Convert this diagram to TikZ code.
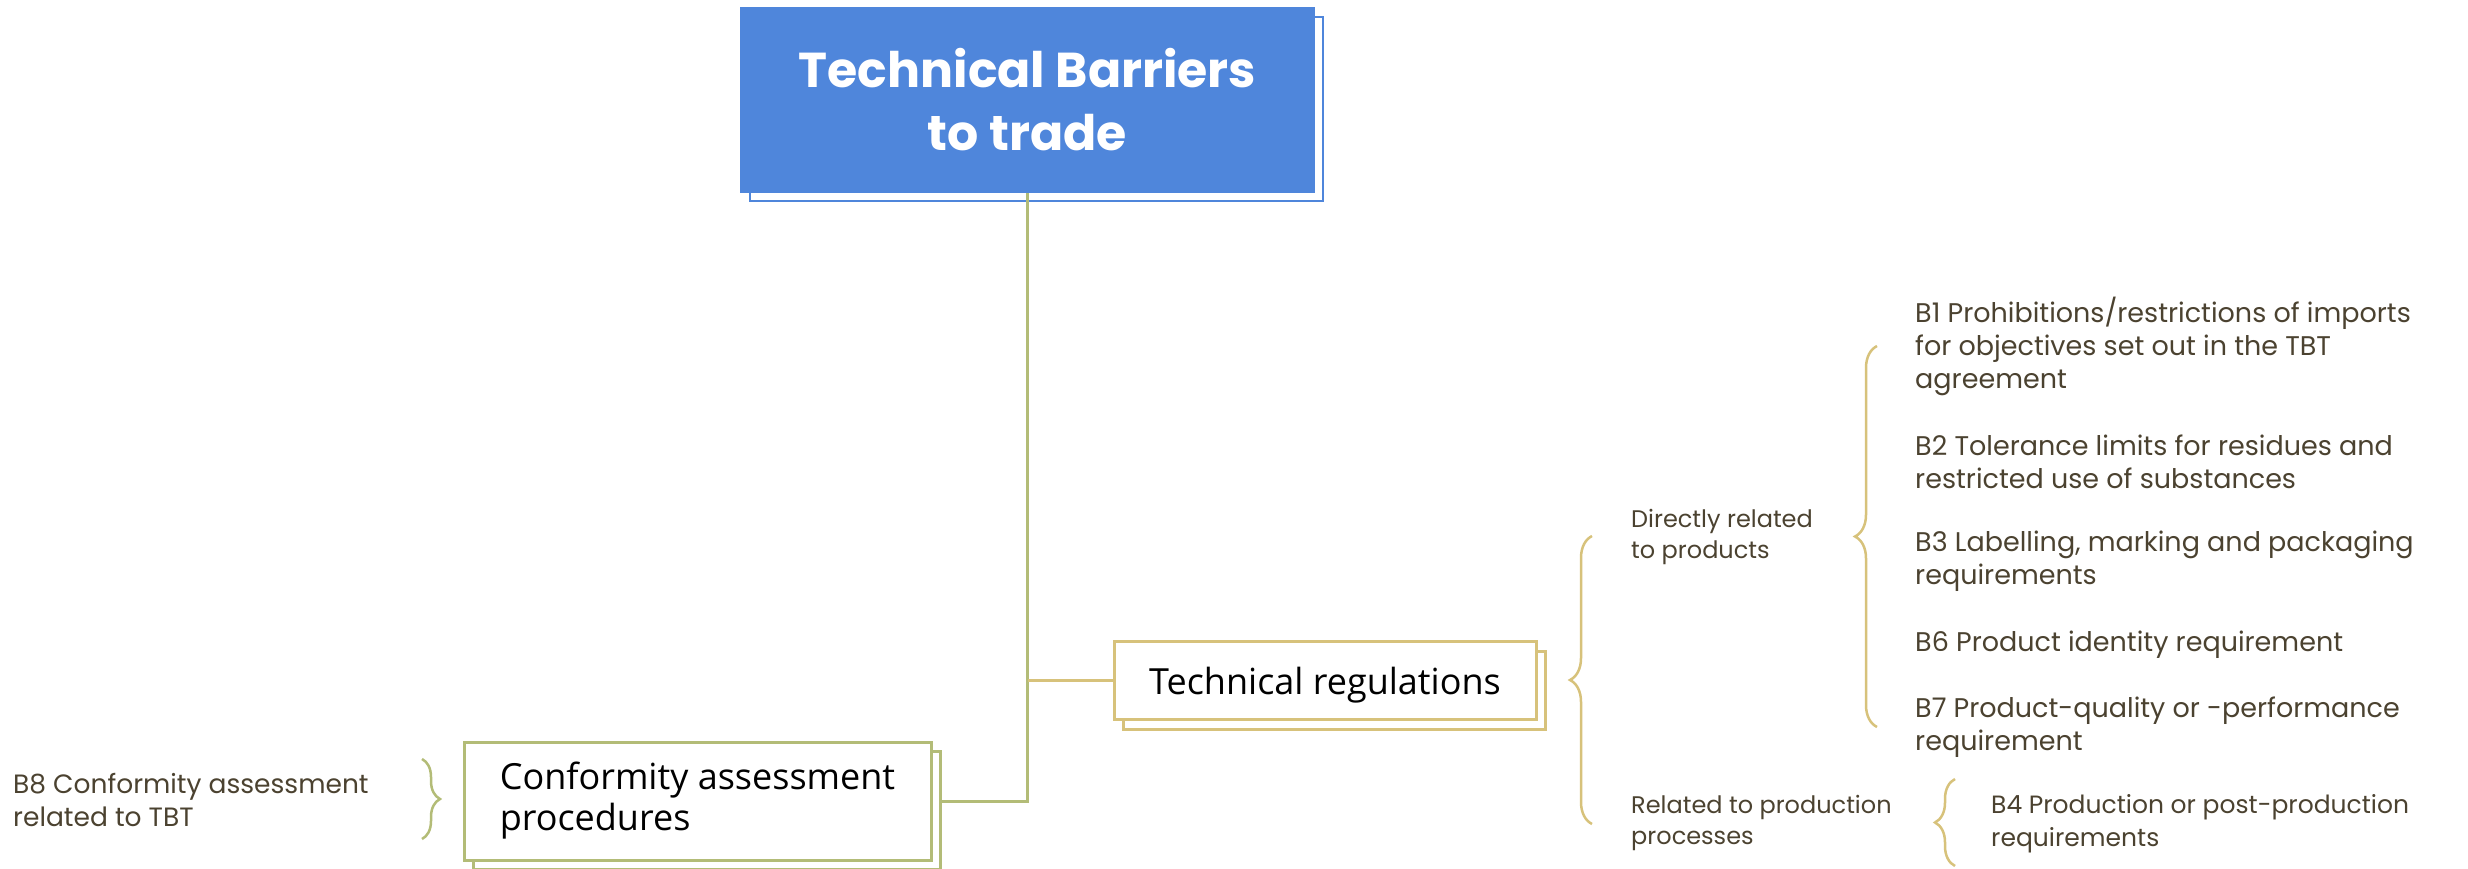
\documentclass[tikz,border=0pt]{standalone}
\usepackage{fontspec}
\setmainfont{Poppins}
\newfontfamily\boxfont{Open Sans}
\usetikzlibrary{shadows,decorations.pathreplacing}
\definecolor{tbblue}{HTML}{4F86DB}
\definecolor{tbgold}{HTML}{D7C27B}
\definecolor{tbgreen}{HTML}{B3BC77}
\definecolor{tbtext}{HTML}{4B4230}
\begin{document}
\begin{tikzpicture}[x=1pt,y=-1pt,
  titlebox/.style={rectangle, fill=tbblue, draw=tbblue, line width=2pt, minimum width=573pt, minimum height=184pt,
    text=white, align=center, font=\fontsize{49}{63}\selectfont\bfseries,
    copy shadow={shadow xshift=9pt, shadow yshift=-9pt, fill=white, draw=tbblue, line width=2pt}},
  goldbox/.style={rectangle, draw=tbgold, fill=white, line width=3pt, minimum width=422pt, minimum height=78pt,
    font=\boxfont\fontsize{36}{42}\selectfont, text height=34pt, text depth=6pt,
    copy shadow={shadow xshift=9pt, shadow yshift=-10pt, fill=white, draw=tbgold, line width=3pt}},
  greenbox/.style={rectangle, draw=tbgreen, fill=white, line width=3pt, minimum width=467pt, minimum height=118pt,
    align=left, font=\boxfont\fontsize{36}{41}\selectfont,
    copy shadow={shadow xshift=9pt, shadow yshift=-9pt, fill=white, draw=tbgreen, line width=3pt}},
  itemtxt/.style={anchor=west, align=left, inner sep=0pt, text=tbtext, font=\fontsize{27}{33}\selectfont},
  subtxt/.style={anchor=west, align=left, inner sep=0pt, text=tbtext, font=\fontsize{24}{31}\selectfont},
  goldline/.style={draw=tbgold, line width=3pt},
  greenline/.style={draw=tbgreen, line width=3pt},
  bracegold/.style={draw=tbgold, line width=2.5pt, decorate, decoration={brace, amplitude=#1}},
  bracegreen/.style={draw=tbgreen, line width=2.5pt, decorate, decoration={brace, amplitude=#1}},
]
\useasboundingbox (0,0) rectangle (2468,869);

\node[titlebox] (title) at (1027.5,100) {Technical Barriers\\to trade};
\node[goldbox] (techreg) at (1325,680) {Technical regulations};
\node[greenbox] (conf) at (697.5,801) {Conformity assessment\\procedures};

\coordinate (confout) at ([xshift=9pt]conf.east);
\draw[greenline] (title.south) |- (confout);
\draw[goldline] (title.south |- techreg.west) -- (techreg.west);

% big brace of technical regulations
\draw[bracegold=22pt] (1592,824) -- (1592,536);
\node[subtxt] (direct) at (1631,537) {Directly related\\to products};
\node[subtxt] (prodproc) at (1631,823) {Related to production\\processes};

% brace of directly related
\draw[bracegold=22pt] (1877,727) -- (1877,346);
\node[itemtxt] (b1) at (1915,346) {B1 Prohibitions/restrictions of imports\\for objectives set out in the TBT\\agreement};
\node[itemtxt] (b2) at (1915,462) {B2 Tolerance limits for residues and\\restricted use of substances};
\node[itemtxt] (b3) at (1915,561) {B3 Labelling, marking and packaging\\requirements};
\node[itemtxt] (b6) at (1915,645) {B6 Product identity requirement};
\node[itemtxt] (b7) at (1915,727) {B7 Product-quality or -performance\\requirement};

% brace of production processes
\draw[bracegold=20pt] (1955,866) -- (1955,779);
\node[itemtxt, font=\fontsize{25}{33}\selectfont] (b4) at (1991,824) {B4 Production or post-production\\requirements};

% brace of conformity
\draw[bracegreen=18pt] (422,759) -- (422,839);
\node[subtxt, font=\fontsize{26.5}{33}\selectfont] (b8) at (13,800) {B8 Conformity assessment\\related to TBT};
\end{tikzpicture}
\end{document}
